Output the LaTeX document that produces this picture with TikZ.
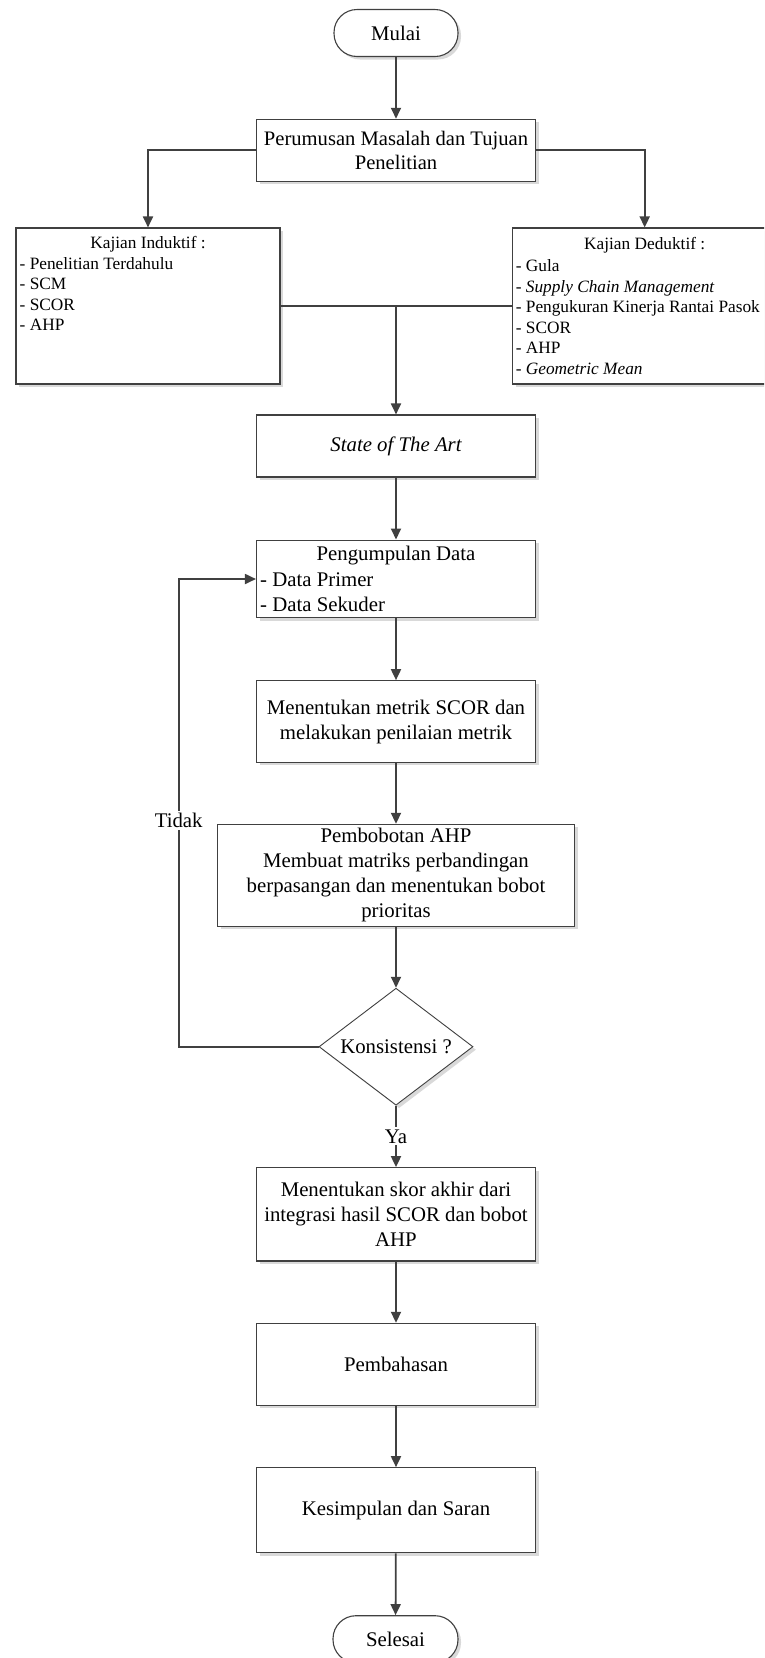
\documentclass[tikz,border=0pt]{standalone}
\usepackage{fontspec}
\setmainfont{Liberation Serif}
\usetikzlibrary{arrows.meta,shapes.geometric,shadows}
\definecolor{ln}{HTML}{404040}
\newcommand\bigsz{\fontsize{20.8}{25}\selectfont}
\newcommand\persz{\fontsize{20.6}{24}\selectfont}
\newcommand\smsz{\fontsize{17.3}{20.8}\selectfont}
\begin{document}
\begin{tikzpicture}[x=1pt,y=-1pt,
  box/.style={draw=ln, line width=1.1pt, fill=white,
    drop shadow={shadow xshift=3pt, shadow yshift=-3pt, fill=black!15, opacity=1},
    inner sep=0pt, align=center, font=\bigsz},
  term/.style={box, rounded corners=23pt},
  arr/.style={draw=ln, line width=1.8pt, -{Triangle[length=11pt,width=10pt]}},
  conn/.style={draw=ln, line width=1.8pt},
  lbl/.style={inner sep=0pt, font=\smsz, anchor=base west},
  blbl/.style={inner sep=0pt, font=\bigsz, anchor=base west},
]
\useasboundingbox (0,0) rectangle (764,1658);
\clip (0,0) rectangle (764,1658);

% nodes
\node[term, minimum width=124pt, minimum height=47pt] (mulai) at (396,33) {Mulai};
\node[box, font=\persz, minimum width=279pt, minimum height=62pt] (per) at (396,150.3) {Perumusan Masalah dan Tujuan\\Penelitian};
\node[box, minimum width=264pt, minimum height=156pt] (ind) at (148,306) {};
\node[box, minimum width=264pt, minimum height=156pt] (ded) at (644.7,306) {};
\node[box, minimum width=279pt, minimum height=62pt] (sota) at (396,446) {\itshape State of The Art};
\node[box, minimum width=279pt, minimum height=77.7pt] (peng) at (396,578.9) {};
\node[box, minimum width=279pt, minimum height=81.6pt] (metrik) at (396,721.5) {Menentukan metrik SCOR dan\\melakukan penilaian metrik};
\node[box, minimum width=357pt, minimum height=101.7pt] (ahp) at (396,875.2) {Pembobotan AHP\\Membuat matriks perbandingan\\berpasangan dan menentukan bobot\\prioritas};
\node[box, diamond, aspect=1.316, line width=0.9pt, minimum width=154pt, minimum height=117pt] (dia) at (396,1046.7) {Konsistensi ?};
\node[box, minimum width=279pt, minimum height=93.3pt] (skor) at (396,1214.3) {Menentukan skor akhir dari\\integrasi hasil SCOR dan bobot\\AHP};
\node[box, minimum width=279pt, minimum height=81.7pt] (bahas) at (396,1364.2) {Pembahasan};
\node[box, minimum width=279pt, minimum height=85pt] (simpul) at (396,1510.2) {Kesimpulan dan Saran};
\node[term, minimum width=125pt, minimum height=47pt] (selesai) at (395.5,1639.2) {Selesai};

% texts in Kajian Induktif
\node[lbl, anchor=base] (indt) at (148,248) {Kajian Induktif :};
\node[lbl] (ind1) at (19.5,269) {- Penelitian Terdahulu};
\node[lbl] (ind2) at (19.5,289.6) {- SCM};
\node[lbl] (ind3) at (19.5,310.2) {- SCOR};
\node[lbl] (ind4) at (19.5,330.8) {- AHP};

% texts in Kajian Deduktif
\node[lbl, anchor=base] (dedt) at (644.7,249.6) {Kajian Deduktif :};
\node[lbl] (ded1) at (515.6,271.3) {- Gula};
\node[lbl] (ded2) at (515.6,292) {- \itshape Supply Chain Management};
\node[lbl] (ded3) at (515.6,312.6) {- Pengukuran Kinerja Rantai Pasok};
\node[lbl] (ded4) at (515.6,333.2) {- SCOR};
\node[lbl] (ded5) at (515.6,353.8) {- AHP};
\node[lbl] (ded6) at (515.6,374.6) {- \itshape Geometric Mean};

% texts in Pengumpulan Data
\node[blbl, anchor=base] (pengt) at (396,560.8) {Pengumpulan Data};
\node[blbl] (peng1) at (260,586.5) {- Data Primer};
\node[blbl] (peng2) at (260,611.5) {- Data Sekuder};

% connectors
\draw[arr] (mulai) -- (per);
\draw[arr] (per.west) -| (ind.north);
\draw[arr] (per.east) -| (ded.north);
\draw[conn] (ind.east) -- (ded.west);
\draw[arr] (ind.east -| sota.north) -- (sota.north);
\draw[arr] (sota) -- (peng);
\draw[arr] (peng) -- (metrik);
\draw[arr] (metrik) -- (ahp);
\draw[arr] (ahp) -- (dia);
\draw[arr] (dia.south) -- node[fill=white, inner sep=2pt, font=\bigsz] (ya) {Ya} (skor.north);
\draw[arr] (skor) -- (bahas);
\draw[arr] (bahas) -- (simpul);
\draw[arr] (simpul) -- (selesai);
\coordinate (lp) at (178.7,579);
\draw[arr] (dia.west) -| (lp) -- (lp -| peng.west);
\node[fill=white, inner sep=2pt, font=\bigsz] (tidak) at (178.7,820.7) {Tidak};
\end{tikzpicture}
\end{document}
